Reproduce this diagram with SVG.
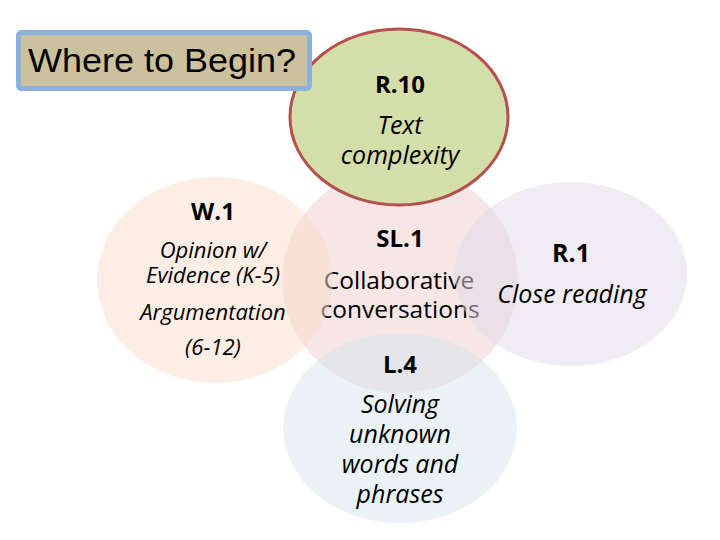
<svg xmlns="http://www.w3.org/2000/svg" width="720" height="540" viewBox="0 0 720 540">
<style>
.t{font-family:"Open Sans","Noto Sans","Liberation Sans",sans-serif;fill:#000;text-anchor:middle}
.b{font-weight:bold;font-size:24px}
.i{font-style:italic;font-size:25px}
.s{font-size:22px}
.r{font-size:24.5px}
.c{fill-opacity:0.5;stroke:none}
</style>
<rect width="720" height="540" fill="#fff"/>
<g id="sl1">
<ellipse class="c" cx="400" cy="280" rx="118" ry="113" fill="#EDCDCD"/>
<text class="t b" x="400" y="247">SL.1</text>
<text class="t r" x="399" y="289">Collaborative</text>
<text class="t r" x="400" y="318">conversations</text>
</g>
<g id="w1">
<ellipse class="c" cx="215" cy="280" rx="118" ry="103" fill="#F9DDC9"/>
<text class="t b" x="213" y="220">W.1</text>
<text class="t i s" x="213" y="258">Opinion w/</text>
<text class="t i s" x="213" y="283">Evidence (K-5)</text>
<text class="t i s" x="213" y="320">Argumentation</text>
<text class="t i s" x="213" y="355">(6-12)</text>
</g>
<g id="r1">
<ellipse class="c" cx="571" cy="274" rx="116" ry="92" fill="#E1D9E7"/>
<text class="t b" x="571" y="262" style="font-size:25px">R.1</text>
<text class="t i" x="572" y="303">Close reading</text>
</g>
<g id="l4">
<ellipse class="c" cx="400" cy="428" rx="117" ry="95" fill="#D5E5ED"/>
<text class="t b" x="400" y="373">L.4</text>
<text class="t i" x="400" y="413">Solving</text>
<text class="t i" x="400" y="443">unknown</text>
<text class="t i" x="400" y="473">words and</text>
<text class="t i" x="400" y="503">phrases</text>
</g>
<g id="r10">
<ellipse cx="399" cy="117" rx="109" ry="88" fill="#D4DEA9" stroke="#B5504F" stroke-width="3"/>
<text class="t b" x="400" y="93">R.10</text>
<text class="t i" x="400" y="134">Text</text>
<text class="t i" x="400" y="164">complexity</text>
</g>
<g id="title">
<rect x="18.5" y="32.5" width="291" height="56" rx="3" fill="#CBC19D" stroke="#8DB1DE" stroke-width="5"/>
<text x="28" y="72" font-family="'Liberation Sans',Arial,sans-serif" font-size="34" textLength="268" lengthAdjust="spacingAndGlyphs" fill="#000">Where to Begin?</text>
</g>
<g id="connectors"/>
</svg>
